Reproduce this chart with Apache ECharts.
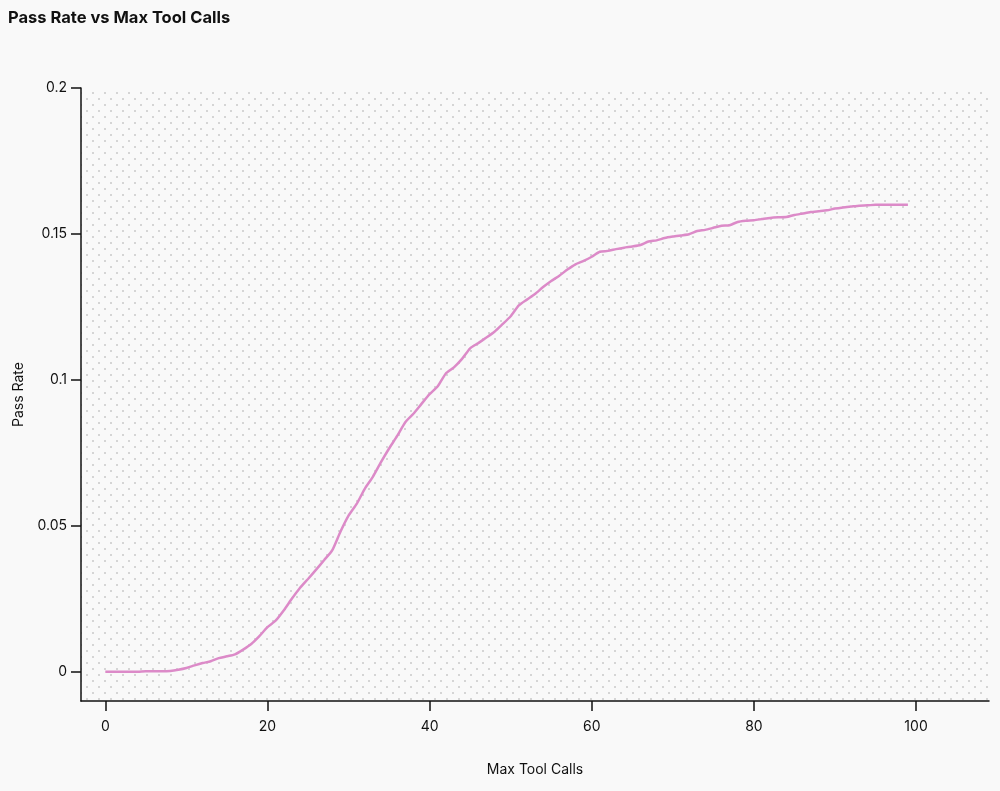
<!DOCTYPE html>
<html>
<head>
<meta charset="utf-8">
<script src="https://cdn.jsdelivr.net/npm/echarts@6/dist/echarts.min.js"></script>
<style>
  html, body { margin: 0; padding: 0; background: #f9f9f9; }
  #chart { width: 1000px; height: 791px; }
</style>
</head>
<body>
<div id="chart"></div>
<script>
const maxToolCalls = Array.from({length: 100}, (_, i) => i);
const passRate = [
  0, 0, 0, 0, 0, 0.0002, 0.0002, 0.0002, 0.0003, 0.0007,
  0.0013, 0.0022, 0.003, 0.0036, 0.0047, 0.0053, 0.006, 0.0076, 0.0095, 0.0122,
  0.0153, 0.0175, 0.021, 0.025, 0.0287, 0.0318, 0.035, 0.0383, 0.0417, 0.048,
  0.0535, 0.0575, 0.0627, 0.0668, 0.0718, 0.0765, 0.0808, 0.0855, 0.0884, 0.0918,
  0.0951, 0.0978, 0.1022, 0.1043, 0.1072, 0.1108, 0.1126, 0.1145, 0.1165, 0.1191,
  0.1218, 0.1255, 0.1275, 0.1294, 0.1318, 0.1339, 0.1357, 0.1378, 0.1396, 0.1408,
  0.1422, 0.1439, 0.1442, 0.1448, 0.1453, 0.1457, 0.1462, 0.1474, 0.1478, 0.1486,
  0.1491, 0.1495, 0.1499, 0.151, 0.1514, 0.1521, 0.1528, 0.153, 0.1541, 0.1545,
  0.1547, 0.1551, 0.1555, 0.1557, 0.1558, 0.1565, 0.157, 0.1575, 0.1578, 0.1581,
  0.1587, 0.1591, 0.1594, 0.1597, 0.1598, 0.16, 0.16, 0.16, 0.16, 0.16
];
const xTicks = [0, 20, 40, 60, 80, 100];
const yTicks = [0, 0.05, 0.1, 0.15, 0.2];

// dotted pattern for plot background
const pc = document.createElement('canvas');
pc.width = 12; pc.height = 12;
const ctx = pc.getContext('2d');
ctx.fillStyle = '#f9f9f9';
ctx.fillRect(0, 0, 12, 12);
ctx.fillStyle = '#c8c8c8';
ctx.beginPath(); ctx.arc(3, 3, 1, 0, Math.PI * 2); ctx.fill();
ctx.beginPath(); ctx.arc(9, 9, 1, 0, Math.PI * 2); ctx.fill();

const FONT = 'Inter, "Noto Sans", sans-serif';
const chart = echarts.init(document.getElementById('chart'), null, {renderer: 'canvas'});
chart.setOption({
  backgroundColor: '#f9f9f9',
  animation: false,
  title: {
    text: 'Pass Rate vs Max Tool Calls',
    left: 3, top: 5,
    textStyle: { fontFamily: FONT, fontSize: 16.5, fontWeight: 'bold', color: '#111' }
  },
  grid: {
    left: 81, top: 88, right: 11, bottom: 90,
    outerBoundsMode: 'none',
    containLabel: false,
    show: true,
    borderWidth: 0,
    backgroundColor: { image: pc, repeat: 'repeat' }
  },
  xAxis: {
    type: 'value',
    min: -3, max: 109,
    name: 'Max Tool Calls',
    nameLocation: 'middle',
    nameGap: 62,
    nameTextStyle: { fontFamily: FONT, fontSize: 14, color: '#111' },
    axisLine: { show: true, onZero: false, lineStyle: { color: '#111', width: 1.5 } },
    axisTick: { show: true, customValues: xTicks, length: 10, lineStyle: { color: '#111', width: 1.5 } },
    axisLabel: { customValues: xTicks, margin: 19, fontFamily: FONT, fontSize: 14, color: '#111' },
    splitLine: { show: false }
  },
  yAxis: {
    type: 'value',
    min: -0.01, max: 0.2,
    name: 'Pass Rate',
    nameLocation: 'middle',
    nameGap: 55,
    nameTextStyle: { fontFamily: FONT, fontSize: 14, color: '#111' },
    axisLine: { show: true, onZero: false, lineStyle: { color: '#111', width: 1.5 } },
    axisTick: { show: true, customValues: yTicks, length: 10, lineStyle: { color: '#111', width: 1.5 } },
    axisLabel: { customValues: yTicks, margin: 14, fontFamily: FONT, fontSize: 14, color: '#111' },
    splitLine: { show: false }
  },
  series: [{
    type: 'line',
    data: maxToolCalls.map((x, i) => [x, passRate[i]]),
    showSymbol: false,
    smooth: 0.2,
    lineStyle: { color: '#dc8ac8', width: 2.5 }
  }]
});
</script>
</body>
</html>
